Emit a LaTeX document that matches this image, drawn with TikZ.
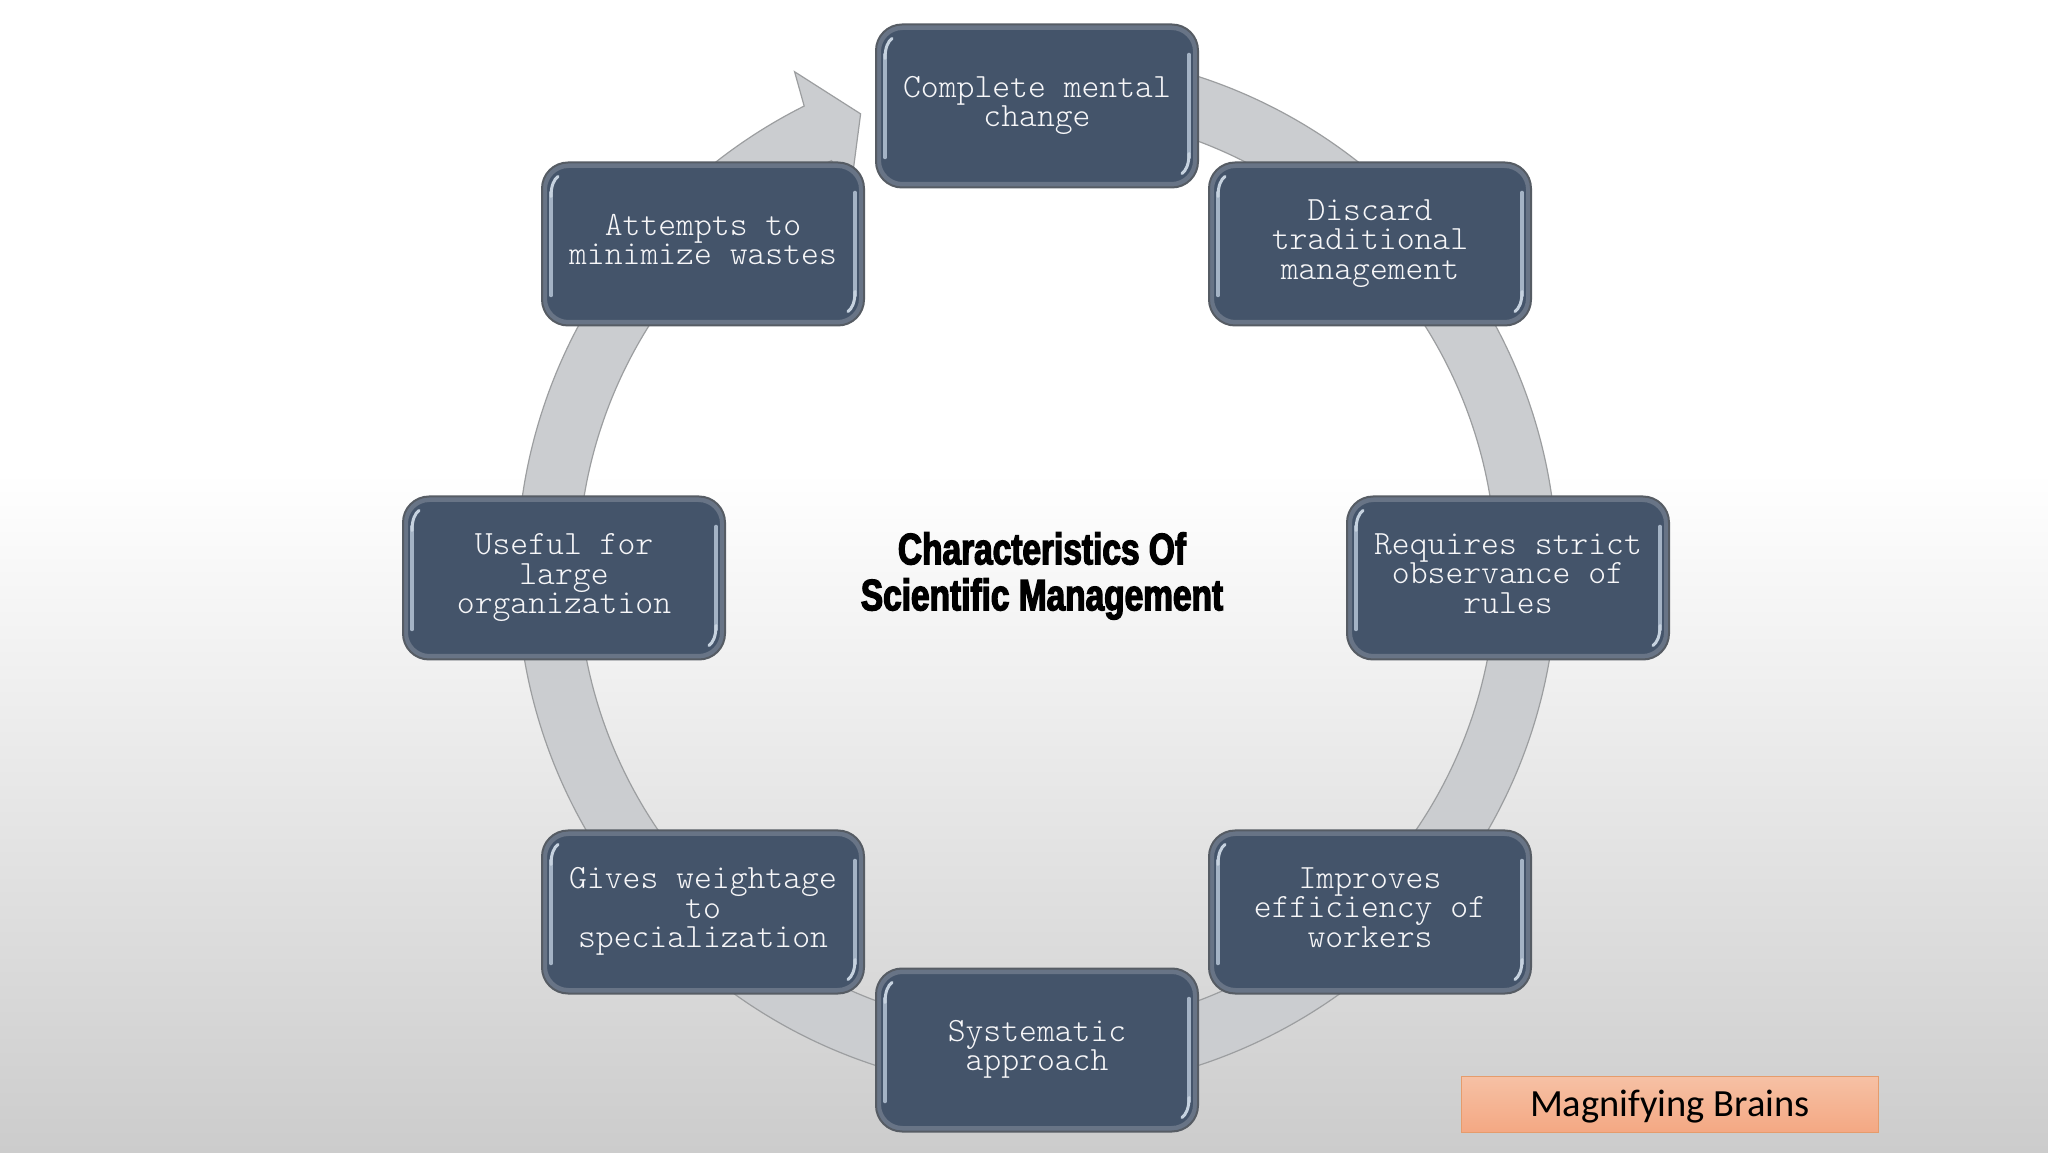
\documentclass[tikz,border=0pt]{standalone}
\usepackage{fontspec}
\usepackage{tikz}
\usetikzlibrary{shapes.geometric, arrows, positioning}
\setsansfont{Carlito}
\setmonofont{Latin Modern Mono Light}
\newfontfamily\headfont[BoldFeatures={FakeStretch=0.76,FakeBold=3}]{Liberation Sans}
\definecolor{slatebox}{HTML}{44546A}
\definecolor{slateedge}{HTML}{565C64}
\definecolor{bevelhigh}{HTML}{C6D2DF}
\definecolor{bevellight}{HTML}{A4B3C5}
\definecolor{bevelgrey}{HTML}{687486}
\definecolor{ringgrey}{HTML}{CBCDD0}
\definecolor{ringedge}{HTML}{9C9EA0}
\definecolor{badgetop}{HTML}{F6C1A5}
\definecolor{badgebottom}{HTML}{F4A883}
\definecolor{badgeedge}{HTML}{E59C6C}
\tikzstyle{stepbox} = [rectangle, rounded corners=26pt, minimum width=322pt, minimum height=163pt, align=center, inner sep=0pt, draw=slateedge, line width=2pt, fill=slatebox, text=white!95!slatebox, font=\fontsize{34}{29.5}\selectfont\ttfamily, execute at begin node=\strut, execute at end node={\strut\rule[-3.5pt]{0pt}{3.5pt}}, path picture={
  \draw [bevelgrey, line width=5pt, rounded corners=24pt] ([xshift=2.5pt, yshift=-3pt]path picture bounding box.north west) rectangle ([xshift=-2.5pt, yshift=3pt]path picture bounding box.south east);
  \draw [bevellight, line width=3.5pt, line cap=round] ([xshift=9pt, yshift=-30pt]path picture bounding box.north west) -- ([xshift=9pt, yshift=30pt]path picture bounding box.south west);
  \draw [bevellight, line width=3.5pt, line cap=round] ([xshift=-9pt, yshift=-30pt]path picture bounding box.north east) -- ([xshift=-9pt, yshift=30pt]path picture bounding box.south east);
  \draw [bevelhigh, line width=3pt, line cap=round] ([xshift=16pt, yshift=-14pt]path picture bounding box.north west) .. controls ([xshift=12pt, yshift=-17pt]path picture bounding box.north west) and ([xshift=9pt, yshift=-23pt]path picture bounding box.north west) .. ([xshift=9pt, yshift=-34pt]path picture bounding box.north west);
  \draw [bevelhigh, line width=3pt, line cap=round] ([xshift=-16pt, yshift=14pt]path picture bounding box.south east) .. controls ([xshift=-12pt, yshift=17pt]path picture bounding box.south east) and ([xshift=-9pt, yshift=23pt]path picture bounding box.south east) .. ([xshift=-9pt, yshift=34pt]path picture bounding box.south east);
}]
\tikzstyle{ringarrow} = [draw=ringedge, line width=1.2pt, fill=ringgrey, line join=miter]
\tikzstyle{badge} = [rectangle, minimum width=417pt, minimum height=56pt, inner sep=0pt, text height=30pt, text depth=6pt, draw=badgeedge, top color=badgetop, bottom color=badgebottom, text=black, font=\fontsize{38.5}{42}\selectfont\sffamily]
\tikzstyle{headline} = [align=center, text=black, font=\fontsize{44}{46}\selectfont\headfont\bfseries]

\begin{document}
\begin{tikzpicture}[x=1pt, y=1pt]
\path [use as bounding box, fill=white] (0,0) rectangle (2048,1152);
\shade [top color=white, bottom color=black!20] (0,0) rectangle (2048,680);
\coordinate (hub) at (1037,581);
\draw [ringarrow] ([shift={(85:520)}]hub) arc[start angle=85, end angle=-243.4, radius=520]
  -- ([shift={(115.9:555)}]hub) -- ([shift={(111.1:490)}]hub) -- ([shift={(115.9:426)}]hub)
  -- ([shift={(116.6:459)}]hub) arc[start angle=-243.4, end angle=85, radius=459] -- cycle;
\node (complete) [stepbox] at (1037,1046) {Complete mental\\change};
\node (discard) [stepbox] at (1370,908) {Discard\\traditional\\management};
\node (rules) [stepbox] at (1508,574) {Requires strict\\observance of\\rules};
\node (improves) [stepbox] at (1370,240) {Improves\\efficiency of\\workers};
\node (systematic) [stepbox] at (1037,102) {Systematic\\approach};
\node (weightage) [stepbox] at (703,240) {Gives weightage\\to\\specialization};
\node (useful) [stepbox] at (564,574) {Useful for\\large\\organization};
\node (wastes) [stepbox] at (703,908) {Attempts to\\minimize wastes};
\node (title) [headline] at (1042,576) {Characteristics Of\\Scientific Management};
\node (brains) [badge] at (1670,48) {Magnifying Brains};
\end{tikzpicture}
\end{document}
